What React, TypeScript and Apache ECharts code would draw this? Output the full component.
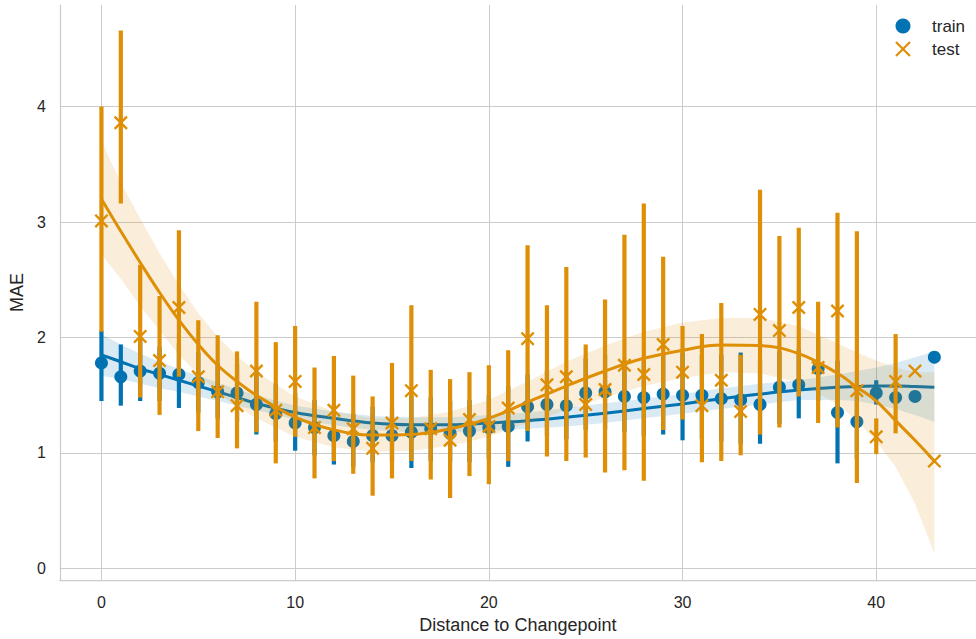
import React, { useEffect, useRef } from "react";
import * as echarts from "echarts";

const distance = [0, 1, 2, 3, 4, 5, 6, 7, 8, 9, 10, 11, 12, 13, 14, 15, 16, 17, 18, 19, 20, 21, 22, 23, 24, 25, 26, 27, 28, 29, 30, 31, 32, 33, 34, 35, 36, 37, 38, 39, 40, 41, 42, 43];

const trainMean = [1.78, 1.66, 1.71, 1.69, 1.68, 1.61, 1.53, 1.52, 1.42, 1.34, 1.26, 1.22, 1.15, 1.10, 1.15, 1.15, 1.18, 1.21, 1.17, 1.19, 1.22, 1.23, 1.40, 1.42, 1.41, 1.52, 1.53, 1.49, 1.48, 1.51, 1.50, 1.50, 1.47, 1.46, 1.42, 1.57, 1.59, 1.73, 1.35, 1.27, 1.52, 1.48, 1.49, 1.83];
const trainLow = [1.45, 1.41, 1.45, 1.45, 1.39, 1.35, 1.30, 1.27, 1.16, 1.10, 1.02, 0.98, 0.90, 0.88, 0.92, 0.92, 0.87, 0.93, 0.92, 0.92, 0.95, 0.88, 1.10, 1.15, 1.12, 1.20, 1.20, 1.18, 1.15, 1.16, 1.11, 1.12, 1.10, 1.08, 1.08, 1.25, 1.30, 1.45, 0.91, 0.95, 1.42, null, null, null];
const trainHigh = [2.06, 1.94, 1.98, 1.92, 1.95, 1.87, 1.78, 1.77, 1.68, 1.60, 1.52, 1.46, 1.42, 1.34, 1.40, 1.40, 1.50, 1.48, 1.45, 1.46, 1.50, 1.58, 1.68, 1.72, 1.70, 1.82, 1.85, 1.80, 1.80, 1.85, 1.87, 1.85, 1.85, 1.87, 1.80, 1.88, 1.90, 2.00, 1.80, 1.60, 1.63, null, null, null];

const testMean = [3.01, 3.86, 2.01, 1.80, 2.26, 1.66, 1.53, 1.41, 1.71, 1.37, 1.62, 1.22, 1.37, 1.21, 1.04, 1.26, 1.54, 1.21, 1.11, 1.29, 1.23, 1.39, 1.99, 1.59, 1.66, 1.42, 1.55, 1.76, 1.68, 1.94, 1.70, 1.41, 1.63, 1.36, 2.20, 2.06, 2.26, 1.74, 2.23, 1.54, 1.14, 1.62, 1.71, 0.93];
const testLow = [2.05, 3.16, 1.48, 1.33, 1.66, 1.19, 1.13, 1.04, 1.18, 0.91, 1.14, 0.78, 0.93, 0.82, 0.63, 0.78, 0.93, 0.77, 0.61, 0.80, 0.73, 0.93, 1.19, 0.97, 0.93, 0.96, 0.83, 0.85, 0.76, 1.20, 1.29, 0.92, 0.93, 0.98, 1.16, 1.22, 1.49, 1.26, 1.22, 0.74, 0.99, 1.17, null, null];
const testHigh = [4.00, 4.66, 2.63, 2.36, 2.93, 2.15, 2.02, 1.88, 2.31, 1.96, 2.10, 1.74, 1.84, 1.67, 1.49, 1.78, 2.28, 1.72, 1.64, 1.70, 1.76, 1.89, 2.80, 2.28, 2.61, 1.94, 2.33, 2.89, 3.16, 2.70, 2.10, 2.03, 2.30, 1.85, 3.28, 2.88, 2.95, 2.31, 3.08, 2.92, 1.30, 2.03, null, null];

const fitX = [0, 1, 2, 3, 4, 5, 6, 7, 8, 10, 12, 14, 16, 18, 20, 22, 24, 26, 28, 30, 32, 34, 36, 38, 39, 40, 41, 42, 43];

const trainFit = [1.85, 1.79, 1.73, 1.68, 1.63, 1.58, 1.53, 1.48, 1.43, 1.35, 1.30, 1.26, 1.245, 1.245, 1.26, 1.28, 1.31, 1.345, 1.385, 1.425, 1.47, 1.51, 1.545, 1.57, 1.575, 1.58, 1.58, 1.575, 1.57];
const trainFitLow = [1.67, 1.64, 1.60, 1.56, 1.53, 1.49, 1.45, 1.41, 1.37, 1.29, 1.24, 1.20, 1.18, 1.18, 1.19, 1.21, 1.23, 1.26, 1.30, 1.34, 1.38, 1.42, 1.46, 1.46, 1.45, 1.42, 1.38, 1.33, 1.27];
const trainFitHigh = [2.03, 1.94, 1.86, 1.79, 1.73, 1.67, 1.61, 1.55, 1.50, 1.41, 1.36, 1.32, 1.31, 1.31, 1.33, 1.35, 1.39, 1.43, 1.47, 1.51, 1.56, 1.60, 1.63, 1.68, 1.71, 1.74, 1.78, 1.83, 1.88];

const testFit = [3.20, 2.92, 2.65, 2.39, 2.15, 1.94, 1.76, 1.62, 1.50, 1.31, 1.20, 1.155, 1.16, 1.21, 1.30, 1.44, 1.58, 1.71, 1.82, 1.89, 1.935, 1.93, 1.86, 1.69, 1.57, 1.45, 1.28, 1.11, 0.93];
const testFitLow = [2.72, 2.51, 2.27, 2.06, 1.85, 1.68, 1.52, 1.40, 1.30, 1.14, 1.05, 1.01, 1.02, 1.06, 1.14, 1.26, 1.37, 1.48, 1.58, 1.65, 1.70, 1.69, 1.61, 1.42, 1.28, 1.10, 0.88, 0.56, 0.13];
const testFitHigh = [3.70, 3.34, 3.03, 2.73, 2.46, 2.21, 2.01, 1.84, 1.70, 1.49, 1.36, 1.30, 1.30, 1.36, 1.46, 1.62, 1.79, 1.93, 2.05, 2.13, 2.17, 2.17, 2.10, 1.95, 1.87, 1.80, 1.74, 1.70, 1.70];

const BLUE = "#0173b2";
const ORANGE = "#de8f05";
const FONT = "'Liberation Sans', Arial, sans-serif";
const TEXT = "#262626";
const XPATH = "path://M0,1.2L1.2,0L5,3.8L8.8,0L10,1.2L6.2,5L10,8.8L8.8,10L5,6.2L1.2,10L0,8.8L3.8,5Z";

function barData(low: (number | null)[], high: (number | null)[]) {
  const out: number[][] = [];
  distance.forEach((x, i) => {
    const lo = low[i];
    const hi = high[i];
    if (lo !== null && hi !== null) out.push([x, lo, hi]);
  });
  return out;
}

function errorBars(name: string, low: (number | null)[], high: (number | null)[], color: string, z: number) {
  return {
    type: "custom",
    name,
    z,
    silent: true,
    data: barData(low, high),
    encode: { x: 0, y: [1, 2] },
    renderItem: (params: any, api: any) => {
      const x = api.value(0);
      const p1 = api.coord([x, api.value(1)]);
      const p2 = api.coord([x, api.value(2)]);
      return {
        type: "line",
        shape: { x1: p1[0], y1: p1[1], x2: p2[0], y2: p2[1] },
        style: { stroke: color, lineWidth: 4.2, lineCap: "butt" },
      };
    },
  };
}

function band(low: number[], high: number[], color: string, z: number) {
  return {
    type: "custom",
    z,
    silent: true,
    data: [[fitX[0], low[0], high[0]]],
    encode: { x: 0, y: [1, 2] },
    renderItem: (params: any, api: any) => {
      const top = fitX.map((x, i) => api.coord([x, high[i]]));
      const bottom = fitX.map((x, i) => api.coord([x, low[i]])).reverse();
      return {
        type: "polygon",
        shape: { points: top.concat(bottom), smooth: 0 },
        style: { fill: color, opacity: 0.15 },
      };
    },
  };
}

export default function App() {
  const ref = useRef<HTMLDivElement>(null);
  useEffect(() => {
    if (!ref.current) return;
    const chart = echarts.init(ref.current, undefined, { renderer: "svg" });
    const fmt = (v: number) => (Math.abs(v - Math.round(v)) < 1e-9 ? String(Math.round(v)) : "");
    chart.setOption({
      animation: false,
      backgroundColor: "#ffffff",
      grid: { left: 57, top: 5, width: 924, height: 578, containLabel: false },
      xAxis: {
        type: "value",
        min: -2.15,
        max: 45.15,
        minInterval: 10,
        maxInterval: 10,
        name: "Distance to Changepoint",
        nameLocation: "middle",
        nameGap: 36,
        nameTextStyle: { fontFamily: FONT, fontSize: 18, color: TEXT },
        axisLine: { show: true, onZero: false, lineStyle: { color: "#cccccc", width: 1.25 } },
        axisTick: { show: false },
        axisLabel: { fontFamily: FONT, fontSize: 16, color: TEXT, margin: 14, showMinLabel: false, showMaxLabel: false, formatter: fmt },
        splitLine: { show: true, showMinLine: false, showMaxLine: false, lineStyle: { color: "#cccccc", width: 1 } },
      },
      yAxis: {
        type: "value",
        min: -0.1,
        max: 4.88,
        minInterval: 1,
        maxInterval: 1,
        name: "MAE",
        nameLocation: "middle",
        nameGap: 33,
        nameTextStyle: { fontFamily: FONT, fontSize: 18, color: TEXT },
        axisLine: { show: true, onZero: false, lineStyle: { color: "#cccccc", width: 1.25 } },
        axisTick: { show: false },
        axisLabel: { fontFamily: FONT, fontSize: 16, color: TEXT, margin: 14, showMinLabel: false, showMaxLabel: false, formatter: fmt },
        splitLine: { show: true, showMinLine: false, showMaxLine: false, lineStyle: { color: "#cccccc", width: 1 } },
      },
      graphic: [
        { type: "circle", shape: { cx: 903, cy: 26, r: 7.5 }, style: { fill: BLUE }, z: 100 },
        { type: "line", shape: { x1: 896, y1: 42, x2: 910, y2: 56 }, style: { stroke: ORANGE, lineWidth: 2.2 }, z: 100 },
        { type: "line", shape: { x1: 910, y1: 42, x2: 896, y2: 56 }, style: { stroke: ORANGE, lineWidth: 2.2 }, z: 100 },
        { type: "text", x: 932, y: 26, style: { text: "train", fontFamily: FONT, fontSize: 17, fill: TEXT, verticalAlign: "middle" }, z: 100 },
        { type: "text", x: 932, y: 49, style: { text: "test", fontFamily: FONT, fontSize: 17, fill: TEXT, verticalAlign: "middle" }, z: 100 },
      ],
      series: [
        errorBars("train-ci", trainLow, trainHigh, BLUE, 2),
        {
          type: "scatter",
          name: "train",
          z: 3,
          symbol: "circle",
          symbolSize: 13,
          itemStyle: { color: BLUE, opacity: 1 },
          data: distance.map((x, i) => [x, trainMean[i]]),
        },
        band(trainFitLow, trainFitHigh, BLUE, 4),
        {
          type: "line",
          z: 5,
          smooth: 0.4,
          showSymbol: false,
          lineStyle: { color: BLUE, width: 3 },
          data: fitX.map((x, i) => [x, trainFit[i]]),
        },
        errorBars("test-ci", testLow, testHigh, ORANGE, 6),
        {
          type: "scatter",
          name: "test",
          z: 7,
          symbol: XPATH,
          symbolSize: 14,
          itemStyle: { color: ORANGE, opacity: 1 },
          data: distance.map((x, i) => [x, testMean[i]]),
        },
        band(testFitLow, testFitHigh, ORANGE, 8),
        {
          type: "line",
          z: 9,
          smooth: 0.4,
          showSymbol: false,
          lineStyle: { color: ORANGE, width: 3 },
          data: fitX.map((x, i) => [x, testFit[i]]),
        },
      ],
    });
    return () => chart.dispose();
  }, []);
  return <div ref={ref} style={{ position: "fixed", left: 0, top: 0, width: 976, height: 639 }} />;
}
